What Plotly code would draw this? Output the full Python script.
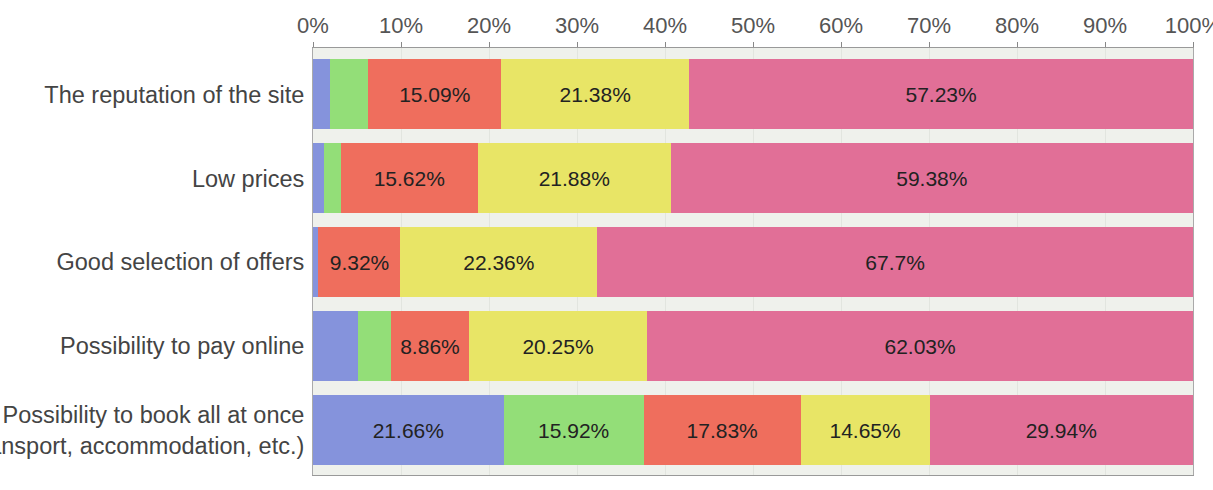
import plotly.graph_objects as go

categories = [
    "The reputation of the site",
    "Low prices",
    "Good selection of offers",
    "Possibility to pay online",
    "Possibility to book all at once<br>(transport, accommodation, etc.)",
]
series_names = ["1", "2", "3", "4", "5"]
s1 = [1.89, 1.25, 0.62, 5.06, 21.66]
s2 = [4.40, 1.88, 0.0, 3.80, 15.92]
s3 = [15.09, 15.62, 9.32, 8.86, 17.83]
s4 = [21.38, 21.88, 22.36, 20.25, 14.65]
s5 = [57.23, 59.38, 67.7, 62.03, 29.94]
colors = ["#8593dc", "#93de78", "#ef6e5d", "#e8e566", "#e16f97"]
tick_vals = [0, 10, 20, 30, 40, 50, 60, 70, 80, 90, 100]
tick_text = [f"{v}%" for v in tick_vals]

FONT = "Liberation Sans, Arial, sans-serif"

fig = go.Figure()
for name, vals, col in zip(series_names, [s1, s2, s3, s4, s5], colors):
    fig.add_trace(go.Bar(
        y=categories, x=vals, orientation="h", name=name,
        marker=dict(color=col, line=dict(width=0)),
        text=[f"{v}%" if v >= 8 else "" for v in vals],
        textposition="inside", insidetextanchor="middle",
        textangle=0,
        textfont=dict(family=FONT, size=21, color="#222222"),
        hoverinfo="skip",
    ))

fig.update_layout(
    barmode="stack",
    bargap=0.166,
    width=1213, height=490,
    margin=dict(l=313, r=20, t=48, b=15),
    paper_bgcolor="white",
    plot_bgcolor="#eff1ec",
    showlegend=False,
    font=dict(family=FONT, color="#555555"),
)
fig.update_xaxes(
    side="top", range=[0, 100], tickvals=tick_vals, ticktext=tick_text,
    tickfont=dict(size=22, color="#555555"),
    ticks="outside", ticklen=5, tickcolor="#888888",
    ticklabeloverflow="allow", automargin=False,
    showline=True, linecolor="#999999", linewidth=1, mirror=True,
    showgrid=True, gridcolor="#e2e5df", zeroline=False, fixedrange=True,
)
fig.update_yaxes(
    range=[4.536, -0.554], automargin=False,
    tickfont=dict(size=23.5, color="#444444"),
    ticks="", ticklabelstandoff=3,
    showline=True, linecolor="#aaaaaa", linewidth=1, mirror=True,
    showgrid=False, fixedrange=True,
)

fig.write_html("out.html")
